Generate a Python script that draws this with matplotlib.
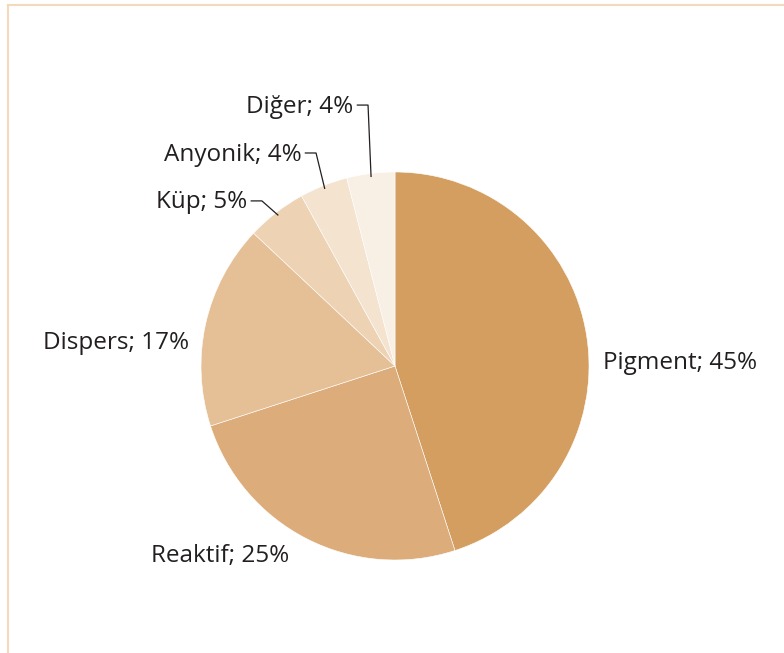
import matplotlib
matplotlib.use("Agg")
import matplotlib.pyplot as plt
import numpy as np

categories = ["Pigment", "Reaktif", "Dispers", "Küp", "Anyonik", "Diğer"]
values = [45, 25, 17, 5, 4, 4]
colors = ["#D39E5F", "#DCAC7B", "#E5C096", "#EDD2B4", "#F3E3CF", "#F8EFE5"]

W, H = 784, 653
fig = plt.figure(figsize=(W / 100, H / 100), dpi=100)
fig.patch.set_facecolor("white")

# frame lines (top and left)
frame_col = "#F5D9BC"
fig.add_artist(plt.Line2D([8 / W, 1], [1 - 5 / H, 1 - 5 / H], color=frame_col, lw=1.5, transform=fig.transFigure))
fig.add_artist(plt.Line2D([8 / W, 8 / W], [0, 1 - 5 / H], color=frame_col, lw=1.5, transform=fig.transFigure))

cx, cy, R = 395, 366, 194
ax = fig.add_axes([(cx - R) / W, (H - cy - R) / H, 2 * R / W, 2 * R / H])

wedges, _ = ax.pie(values, colors=colors, startangle=90, counterclock=False, radius=1,
                   wedgeprops=dict(edgecolor="white", linewidth=0.4))
ax.set_xlim(-1, 1)
ax.set_ylim(-1, 1)
ax.set_aspect("equal")
ax.axis("off")

font = dict(family="Open Sans", size=17.5, color="#231F20")

labels = [f"{c}; {v}%" for c, v in zip(categories, values)]

# label positions (data units, radius = 1)
ax.text(1.072, 0.018, labels[0], ha="left", va="center", clip_on=False, **font)
ax.text(-0.902, -0.978, labels[1], ha="center", va="center", clip_on=False, **font)
ax.text(-1.062, 0.12, labels[2], ha="right", va="center", clip_on=False, **font)

# small slices with leader lines
elbows = {3: (-0.686, 0.851), 4: (-0.407, 1.098), 5: (-0.139, 1.345)}
for i, (ex, ey) in elbows.items():
    w = wedges[i]
    mid = np.deg2rad((w.theta1 + w.theta2) / 2)
    px, py = 0.985 * np.cos(mid), 0.985 * np.sin(mid)
    lx = ex - 0.055
    ax.plot([lx, ex, px], [ey, ey, py], color="#231F20", lw=0.9, clip_on=False)
    ax.text(lx - 0.02, ey - 0.008, labels[i], ha="right", va="center", clip_on=False, **font)

fig.savefig("out.png", dpi=100)
